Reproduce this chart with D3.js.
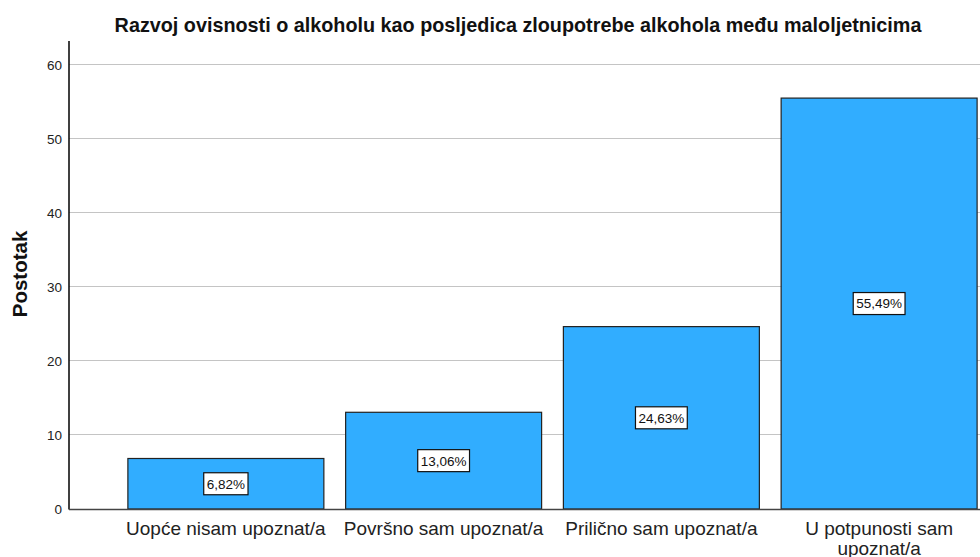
<!DOCTYPE html>
<html><head><meta charset="utf-8">
<script src="https://cdn.jsdelivr.net/npm/d3@7"></script>
<style>body{margin:0;background:#fff}svg{display:block}</style>
</head><body>
<script>
const categories = ["Uopće nisam upoznat/a","Površno sam upoznat/a","Prilično sam upoznat/a","U potpunosti sam upoznat/a"];
const values = [6.82, 13.06, 24.63, 55.49];
const labels = ["6,82%","13,06%","24,63%","55,49%"];
const yTicks = [0,10,20,30,40,50,60];
const title = "Razvoj ovisnosti o alkoholu kao posljedica zloupotrebe alkohola među maloljetnicima";
const yTitle = "Postotak";

const W=980,H=557;
const svg=d3.select("body").append("svg").attr("width",W).attr("height",H);
const font="Liberation Sans, Arial, sans-serif";
const y=d3.scaleLinear().domain([0,63.2]).range([509,41]);
const x=d3.scaleBand().domain(categories).range([117,988]).paddingInner(0.1).paddingOuter(0.05);

// gridlines
svg.append("g").selectAll("line").data(yTicks.filter(d=>d>0)).join("line")
  .attr("x1",69).attr("x2",W).attr("y1",d=>y(d)).attr("y2",d=>y(d))
  .attr("stroke","#c4c4c4").attr("stroke-width",1).attr("shape-rendering","crispEdges");

// y axis
const ya=svg.append("g").attr("transform","translate(69,0)")
  .call(d3.axisLeft(y).tickValues(yTicks).tickSize(0).tickFormat(d3.format("d")));
ya.select(".domain").remove();
ya.selectAll(".tick text").attr("font-family",font).attr("font-size",13.5).attr("fill","#222").attr("x",-7);
svg.append("line").attr("x1",69).attr("x2",69).attr("y1",41).attr("y2",509.5).attr("stroke","#000").attr("stroke-width",1.5);

// bars
svg.append("g").selectAll("rect").data(values).join("rect")
  .attr("x",(d,i)=>x(categories[i])).attr("width",x.bandwidth())
  .attr("y",d=>y(d)).attr("height",d=>y(0)-y(d))
  .attr("fill","#31adff").attr("stroke","#222").attr("stroke-width",1.2);

// x axis line
svg.append("line").attr("x1",69).attr("x2",W).attr("y1",509.5).attr("y2",509.5).attr("stroke","#444").attr("stroke-width",1.5);

// value labels
const lg=svg.append("g").selectAll("g").data(values).join("g")
  .attr("transform",(d,i)=>`translate(${x(categories[i])+x.bandwidth()/2},${(y(d)+y(0))/2})`);
lg.append("text").text((d,i)=>labels[i]).attr("text-anchor","middle").attr("dy","0.36em")
  .attr("font-family",font).attr("font-size",13.5).attr("fill","#111");
lg.each(function(){
  const g=d3.select(this); const t=g.select("text").node().getBBox();
  g.insert("rect","text").attr("x",t.x-3).attr("y",-11).attr("width",t.width+6).attr("height",22)
    .attr("fill","#fff").attr("stroke","#111").attr("stroke-width",1.2);
});

// category labels
const cl=svg.append("g").selectAll("text").data(categories).join("text")
  .attr("x",d=>x(d)+x.bandwidth()/2).attr("y",535).attr("text-anchor","middle")
  .attr("font-family",font).attr("font-size",19).attr("fill","#222");
cl.each(function(d){
  const t=d3.select(this);
  const lines = d==="U potpunosti sam upoznat/a" ? ["U potpunosti sam","upoznat/a"] : [d];
  lines.forEach((l,i)=>t.append("tspan").attr("x",x(d)+x.bandwidth()/2).attr("dy",i?19.5:0).text(l));
});

// title
svg.append("text").attr("x",518).attr("y",32).attr("text-anchor","middle")
  .attr("font-family",font).attr("font-size",19.8).attr("font-weight","bold").attr("fill","#111").text(title);
// y title
svg.append("text").attr("transform","translate(27,274) rotate(-90)").attr("text-anchor","middle")
  .attr("font-family",font).attr("font-size",20.5).attr("font-weight","bold").attr("fill","#111").text(yTitle);
</script>
</body></html>
